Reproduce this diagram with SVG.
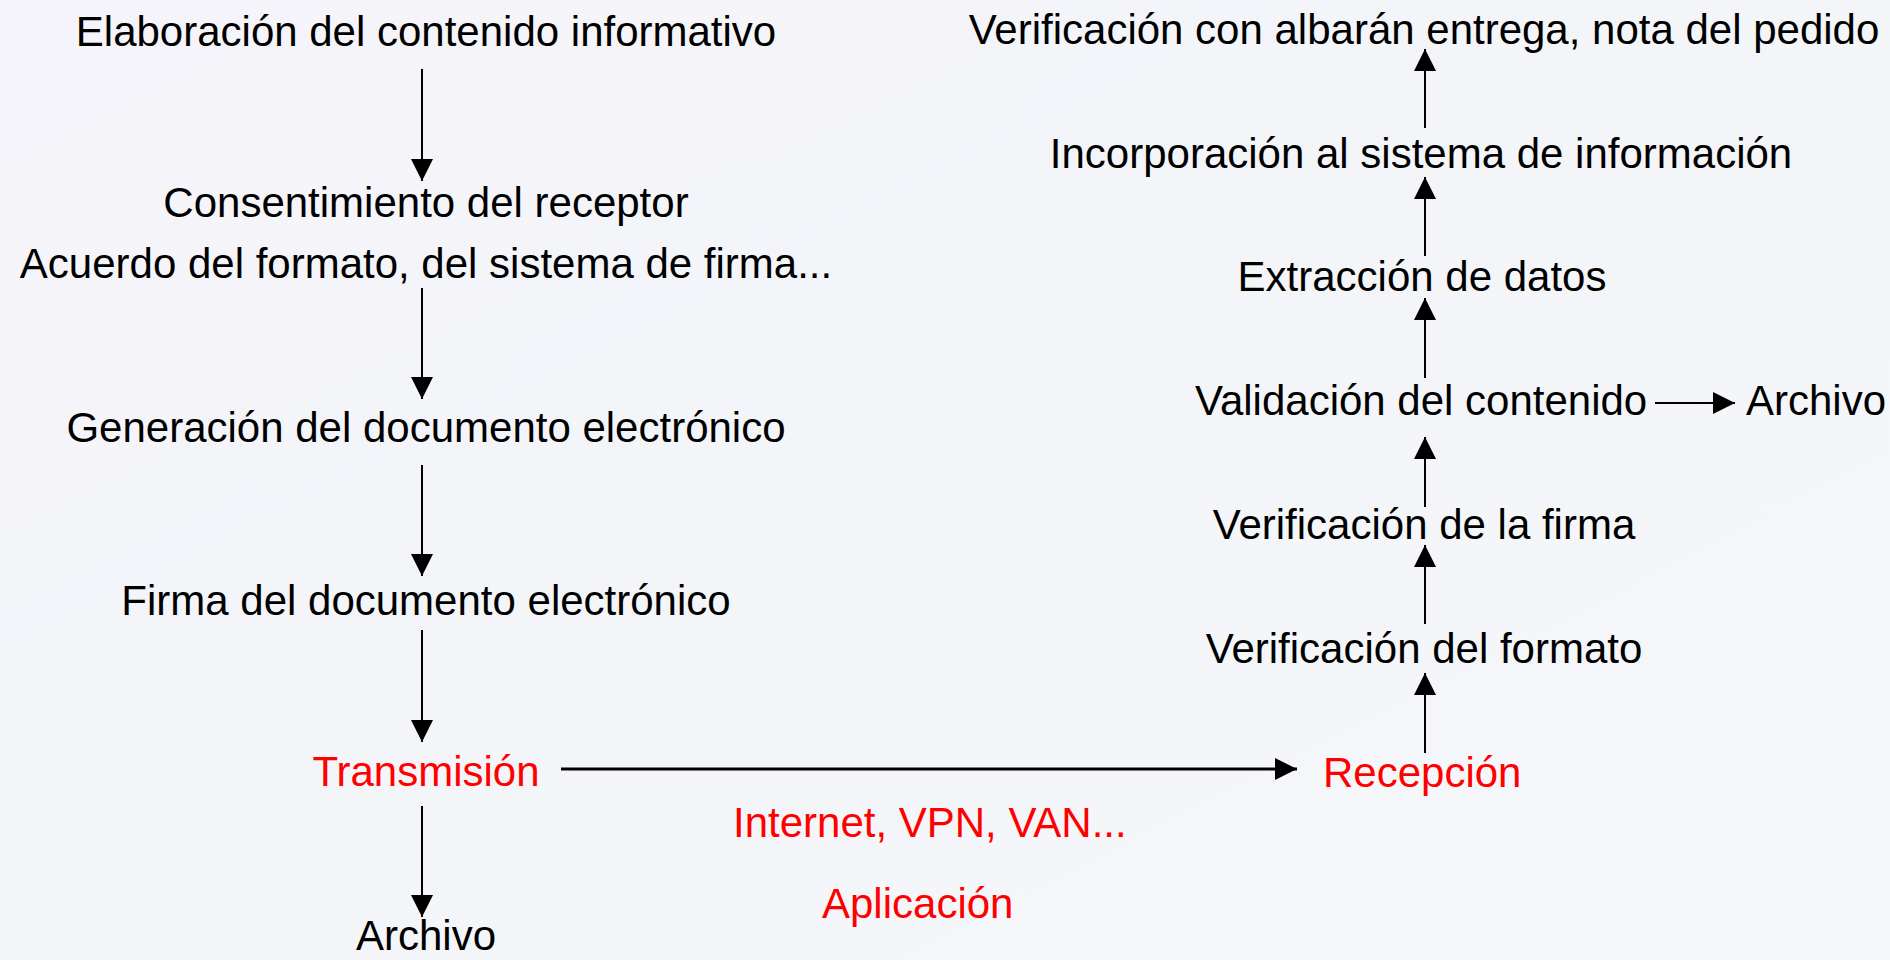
<svg xmlns="http://www.w3.org/2000/svg" width="1890" height="960" viewBox="0 0 1890 960">
<defs>
<linearGradient id="bg" x1="0" y1="0" x2="1" y2="1">
<stop offset="0" stop-color="#F5F4FA"/>
<stop offset="0.5" stop-color="#F3F5F9"/>
<stop offset="1" stop-color="#F6F7FB"/>
</linearGradient>
<marker id="ah" markerUnits="userSpaceOnUse" markerWidth="22" markerHeight="22" refX="22" refY="11" orient="auto" viewBox="0 0 22 22">
<path d="M0,0 L22,11 L0,22 Z" fill="#000"/>
</marker>
</defs>
<style>
text{font-family:"Liberation Sans",Arial,sans-serif;font-size:42px;fill:#000}
.red{fill:#FF0000}
.c{text-anchor:middle}
.conn line{stroke:#000;stroke-width:2;marker-end:url(#ah)}
</style>
<rect width="1890" height="960" fill="url(#bg)"/>
<g id="n-elaboracion"><text class="c" x="426" y="46">Elaboración del contenido informativo</text></g>
<g id="n-consentimiento"><text class="c" x="426" y="217">Consentimiento del receptor</text><text class="c" x="426" y="278">Acuerdo del formato, del sistema de firma...</text></g>
<g id="n-generacion"><text class="c" x="426" y="442">Generación del documento electrónico</text></g>
<g id="n-firma"><text class="c" x="426" y="615">Firma del documento electrónico</text></g>
<g id="n-transmision"><text class="c red" x="426" y="786">Transmisión</text></g>
<g id="n-archivo1"><text class="c" x="426" y="950">Archivo</text></g>
<g id="n-recepcion"><text class="red" x="1323" y="787">Recepción</text></g>
<g id="n-verif-formato"><text class="c" x="1424" y="663">Verificación del formato</text></g>
<g id="n-verif-firma"><text class="c" x="1424" y="539">Verificación de la firma</text></g>
<g id="n-validacion"><text x="1195" y="415">Validación del contenido</text></g>
<g id="n-archivo2"><text x="1746" y="415">Archivo</text></g>
<g id="n-extraccion"><text class="c" x="1422" y="291">Extracción de datos</text></g>
<g id="n-incorporacion"><text class="c" x="1421" y="168">Incorporación al sistema de información</text></g>
<g id="n-verif-albaran"><text class="c" x="1424" y="44">Verificación con albarán entrega, nota del pedido</text></g>
<g id="labels"><text class="red" x="733" y="837">Internet, VPN, VAN...</text><text class="red" x="822" y="918">Aplicación</text></g>
<g id="connectors" class="conn">
<line x1="422" y1="69" x2="422" y2="181"/>
<line x1="422" y1="288" x2="422" y2="399"/>
<line x1="422" y1="465" x2="422" y2="576"/>
<line x1="422" y1="630" x2="422" y2="742"/>
<line x1="422" y1="806" x2="422" y2="917"/>
<line x1="561" y1="769" x2="1297" y2="769" style="stroke-width:3"/>
<line x1="1425" y1="753" x2="1425" y2="673"/>
<line x1="1425" y1="624" x2="1425" y2="545"/>
<line x1="1425" y1="507" x2="1425" y2="437"/>
<line x1="1425" y1="378" x2="1425" y2="298"/>
<line x1="1425" y1="256" x2="1425" y2="177"/>
<line x1="1425" y1="128" x2="1425" y2="49"/>
<line x1="1655" y1="403" x2="1735" y2="403"/>
</g>
</svg>
